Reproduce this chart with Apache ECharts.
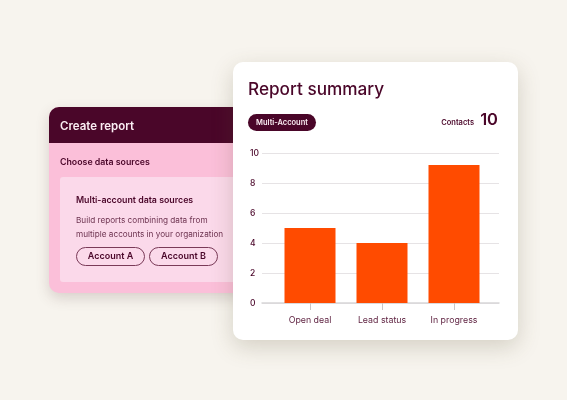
<!DOCTYPE html>
<html><head><meta charset="utf-8">
<style>html,body{margin:0;padding:0;background:#f7f4ee}#c{width:567px;height:400px}</style>
<script src="https://cdn.jsdelivr.net/npm/echarts@6/dist/echarts.min.js"></script>
</head><body><div id="c"></div>
<script>
const categories = ['Open deal', 'Lead status', 'In progress'];
const values = [5, 4, 9.2];
const yTicks = { min: 0, max: 10, interval: 2 };
const FONT = 'Inter, Lato, sans-serif';
const DARK = '#4a0629';
const txt = (x, y, text, size, weight, fill, align) => ({
  type: 'text', x, y, z: 5,
  style: { text, font: `${weight} ${size}px ${FONT}`, fill, align: align || 'left', verticalAlign: 'middle' }
});
const rect = (x, y, width, height, r, style, z) => ({
  type: 'rect', x, y, z: z === undefined ? 1 : z, shape: { x: 0, y: 0, width, height, r }, style
});
const chart = echarts.init(document.getElementById('c'), null, { renderer: 'canvas' });
chart.setOption({
  animation: false,
  backgroundColor: '#f7f4ee',
  graphic: { elements: [
    rect(49, 107, 200, 186, 10, { fill: '#fbbfd9', shadowBlur: 14, shadowColor: 'rgba(90,60,60,0.2)', shadowOffsetY: 5 }, -30),
    rect(49, 107, 200, 36, [10, 0, 0, 0], { fill: DARK }, -29),
    rect(60, 177, 190, 105, 3, { fill: '#fbd9ea' }, -29),
    txt(60, 127, 'Create report', 11.5, 600, '#fbeef3'),
    txt(60, 162.5, 'Choose data sources', 8.8, 600, DARK),
    txt(76, 200.5, 'Multi-account data sources', 8.8, 600, DARK),
    txt(76, 220.5, 'Build reports combining data from', 8.2, 400, '#6d3350'),
    txt(76, 234.5, 'multiple accounts in your organization', 8.2, 400, '#6d3350'),
    rect(76.5, 247.5, 68, 18, 9, { fill: 'transparent', stroke: '#7a3a58', lineWidth: 1 }, -28),
    rect(149.5, 247.5, 68, 18, 9, { fill: 'transparent', stroke: '#7a3a58', lineWidth: 1 }, -28),
    txt(110.5, 256.5, 'Account A', 9, 600, DARK, 'center'),
    txt(183.5, 256.5, 'Account B', 9, 600, DARK, 'center'),
    rect(233, 62, 285, 278, 10, { fill: '#ffffff', shadowBlur: 22, shadowColor: 'rgba(90,80,50,0.22)', shadowOffsetY: 7 }, -20),
    txt(248, 90, 'Report summary', 17.2, 500, DARK),
    rect(248, 114, 68, 17, 8.5, { fill: DARK }, -19),
    txt(282, 122.5, 'Multi-Account', 7.5, 600, '#fbeef3', 'center'),
    txt(474, 122.5, 'Contacts', 7.5, 600, DARK, 'right'),
    txt(498, 120.5, '10', 16.5, 600, DARK, 'right')
  ] },
  grid: [
    { left: 262, top: 153, width: 237, height: 150 },
    { left: 274, top: 153, width: 216, height: 150 }
  ],
  xAxis: [
    { type: 'value', gridIndex: 0, min: 0, max: 1, axisLabel: { show: false }, axisTick: { show: false }, splitLine: { show: false },
      axisLine: { show: true, lineStyle: { color: '#d8d6d7', width: 1.5 } } },
    { type: 'category', gridIndex: 1, data: categories,
      axisLine: { show: true, lineStyle: { color: 'rgba(0,0,0,0)' } },
      axisTick: { show: true, alignWithLabel: true, length: 7, lineStyle: { color: '#c9c6c7', width: 1 } },
      axisLabel: { color: '#5c1f3e', fontFamily: FONT, fontSize: 8.8, margin: 13 } }
  ],
  yAxis: [
    { type: 'value', gridIndex: 0, min: yTicks.min, max: yTicks.max, interval: yTicks.interval,
      axisLine: { show: false }, axisTick: { show: false },
      axisLabel: { color: DARK, fontFamily: FONT, fontSize: 8.5, fontWeight: 500, align: 'left', margin: 12, padding: [0, 0, 2, 0] },
      splitLine: { lineStyle: { color: '#e6e3e5', width: 1 } } },
    { type: 'value', gridIndex: 1, min: yTicks.min, max: yTicks.max, interval: yTicks.interval,
      axisLine: { show: false }, axisTick: { show: false }, axisLabel: { show: false }, splitLine: { show: false } }
  ],
  series: [{ type: 'bar', xAxisIndex: 1, yAxisIndex: 1, data: values, barWidth: 51, itemStyle: { color: '#ff4b00' } }]
});
</script></body></html>
